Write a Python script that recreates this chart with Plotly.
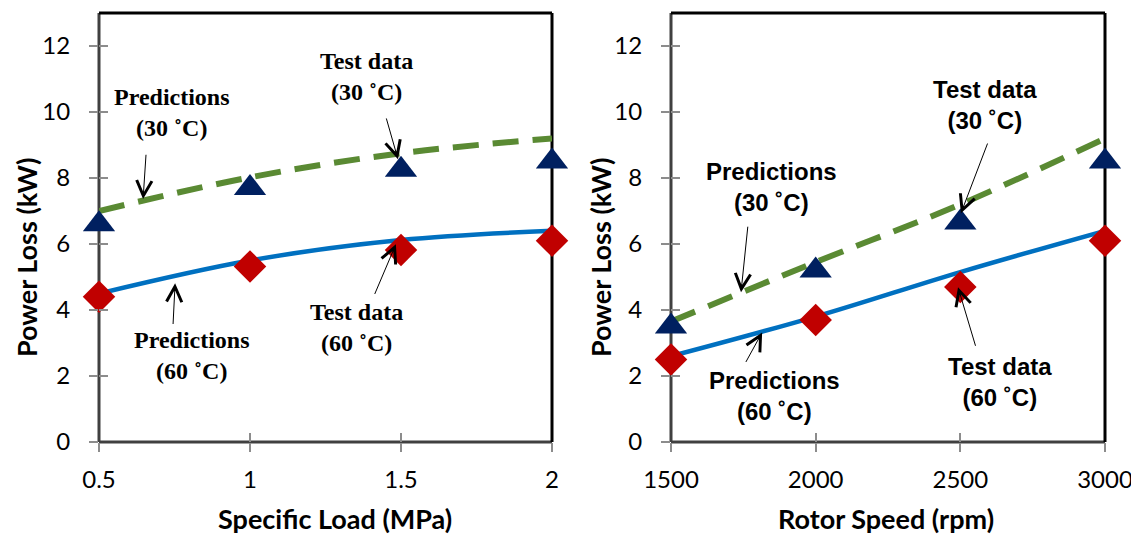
import plotly.graph_objects as go

# ---------------- data ----------------
load_mpa = [0.5, 1.0, 1.5, 2.0]
load_test_30 = [6.6, 7.7, 8.25, 8.5]
load_test_60 = [4.4, 5.32, 5.82, 6.1]
load_pred_30 = [7.0, 8.02, 8.75, 9.2]
load_pred_60 = [4.5, 5.5, 6.12, 6.4]

speed_rpm = [1500, 2000, 2500, 3000]
speed_test_30 = [3.5, 5.2, 6.65, 8.5]
speed_test_60 = [2.5, 3.7, 4.7, 6.1]
speed_pred_30 = [3.65, 5.45, 7.2, 9.2]
speed_pred_60 = [2.6, 3.8, 5.15, 6.4]

y_ticks = [0, 2, 4, 6, 8, 10, 12]
load_ticks = [0.5, 1, 1.5, 2]
speed_ticks = [1500, 2000, 2500, 3000]

# ---------------- styles ----------------
NAVY = "#002060"
RED = "#C00000"
BLUE = "#0070C0"
GREEN = "#5A8A33"
TICK_FONT = dict(family="Lato", size=24, color="black")
TITLE_FONT = dict(family="Lato", size=27, color="black")

OFF = 8  # page body margin
W, H = 1139 - OFF, 536 - OFF
ML, MT = 99 - OFF, 13 - OFF
MR = W - (1105 - OFF)
MB = H - (442 - OFF)
PW, PH = W - ML - MR, H - MT - MB

def px(xp):
    return (xp - OFF - ML) / PW

def py(yp):
    return (H - MB - (yp - OFF)) / PH

fig = go.Figure()

def add_panel(xs, t30, t60, p30, p60, xa, ya):
    fig.add_trace(go.Scatter(x=xs, y=p60, mode="lines", line=dict(color=BLUE, width=4.5, shape="spline"),
                             xaxis=xa, yaxis=ya, showlegend=False))
    fig.add_trace(go.Scatter(x=xs, y=p30, mode="lines",
                             line=dict(color=GREEN, width=6, dash="26px,14px", shape="spline"),
                             xaxis=xa, yaxis=ya, showlegend=False))
    fig.add_trace(go.Scatter(x=xs, y=t30, mode="markers", cliponaxis=False,
                             marker=dict(symbol="triangle-up", size=28, color=NAVY),
                             xaxis=xa, yaxis=ya, showlegend=False))
    fig.add_trace(go.Scatter(x=xs, y=t60, mode="markers", cliponaxis=False,
                             marker=dict(symbol="diamond", size=25, color=RED),
                             xaxis=xa, yaxis=ya, showlegend=False))

add_panel(load_mpa, load_test_30, load_test_60, load_pred_30, load_pred_60, "x", "y")
add_panel(speed_rpm, speed_test_30, speed_test_60, speed_pred_30, speed_pred_60, "x2", "y2")

YD = [0, 1]
XD1 = [0, px(552)]
XD2 = [px(671), 1]

TICKC = "#8C8C8C"
axis_common = dict(showgrid=False, zeroline=False, showline=False, ticks="outside", automargin=False,
                   ticklen=9, tickcolor=TICKC, tickwidth=1.5, tickfont=TICK_FONT)
inner_common = dict(showticklabels=False, showgrid=False, zeroline=False, ticks="inside", ticklen=9,
                    tickcolor=TICKC, tickwidth=1.5, automargin=False)

fig.update_layout(
    width=W, height=H, autosize=False,
    margin=dict(l=ML, r=MR, t=MT, b=MB, autoexpand=False),
    paper_bgcolor="white", plot_bgcolor="white",
    xaxis=dict(domain=XD1, range=[0.5, 2], tickvals=load_ticks, ticktext=["0.5", "1", "1.5", "2"],
               anchor="y", ticklabelstandoff=7, **axis_common),
    yaxis=dict(domain=YD, range=[0, 13], tickvals=y_ticks, anchor="x", ticklabelstandoff=14, **axis_common),
    xaxis2=dict(domain=XD2, range=[1500, 3000], tickvals=speed_ticks, anchor="y2",
                ticklabelstandoff=7, ticklabeloverflow="allow", **axis_common),
    yaxis2=dict(domain=YD, range=[0, 13], tickvals=y_ticks, anchor="x2", ticklabelstandoff=14, **axis_common),
    # inside halves of the crossing ticks
    xaxis3=dict(domain=XD1, range=[0.5, 2], tickvals=load_ticks, overlaying="x", anchor="y", **inner_common),
    yaxis3=dict(domain=YD, range=[0, 13], tickvals=y_ticks, overlaying="y", anchor="x", **inner_common),
    xaxis4=dict(domain=XD2, range=[1500, 3000], tickvals=speed_ticks, overlaying="x2", anchor="y2",
                **inner_common),
    yaxis4=dict(domain=YD, range=[0, 13], tickvals=y_ticks, overlaying="y2", anchor="x2", **inner_common),
)
# empty traces so the overlay axes render
fig.add_trace(go.Scatter(x=[None], y=[None], xaxis="x3", yaxis="y3", showlegend=False, hoverinfo="skip"))
fig.add_trace(go.Scatter(x=[None], y=[None], xaxis="x4", yaxis="y4", showlegend=False, hoverinfo="skip"))

# frames
for xr, yr in (("x domain", "y domain"), ("x2 domain", "y2 domain")):
    fig.add_shape(type="line", xref=xr, yref=yr, x0=0, x1=0, y0=0, y1=1, layer="below",
                  line=dict(color="#404040", width=3))
    fig.add_shape(type="line", xref=xr, yref=yr, x0=0, x1=1, y0=0, y1=0, layer="below",
                  line=dict(color="#404040", width=3))
    fig.add_shape(type="line", xref=xr, yref=yr, x0=0, x1=1, y0=1, y1=1, layer="below",
                  line=dict(color="black", width=3))
    fig.add_shape(type="line", xref=xr, yref=yr, x0=1, x1=1, y0=0, y1=1, layer="below",
                  line=dict(color="black", width=3))

# axis titles
titles = [
    ("<b>Specific Load (MPa)</b>", px(335), py(518), 0),
    ("<b>Rotor Speed (rpm)</b>", px(886), py(518), 0),
    ("<b>Power Loss (kW)</b>", px(26), py(258), -90),
    ("<b>Power Loss (kW)</b>", px(600), py(258), -90),
]
for txt, x, y, ang in titles:
    fig.add_annotation(text=txt, x=x, y=y, xref="paper", yref="paper", showarrow=False,
                       textangle=ang, font=TITLE_FONT, xanchor="center", yanchor="middle")

# callout labels
serif = dict(family="Liberation Serif", size=24, color="black")
sans = dict(family="Liberation Sans", size=24, color="black")
labels = [
    ("x", "y", "Predictions<br>(30 ˚C)", 0.742, 9.97, serif),
    ("x", "y", "Test data<br>(30 ˚C)", 1.387, 11.09, serif),
    ("x", "y", "Predictions<br>(60 ˚C)", 0.808, 2.62, serif),
    ("x", "y", "Test data<br>(60 ˚C)", 1.354, 3.47, serif),
    ("x2", "y2", "Predictions<br>(30 ˚C)", 1849, 7.72, sans),
    ("x2", "y2", "Test data<br>(30 ˚C)", 2585, 10.21, sans),
    ("x2", "y2", "Predictions<br>(60 ˚C)", 1856, 1.38, sans),
    ("x2", "y2", "Test data<br>(60 ˚C)", 2637, 1.81, sans),
]
for xr, yr, txt, x, y, f in labels:
    fig.add_annotation(text="<b>" + txt + "</b>", x=x, y=y, xref=xr, yref=yr, showarrow=False,
                       font=f, xanchor="center", yanchor="middle")

# callout arrows: (tail x, tail y) -> (tip x, tip y)
arrows = [
    ("x", "y", 0.656, 8.75, 0.646, 7.36),
    ("x", "y", 1.450, 9.85, 1.490, 8.57),
    ("x", "y", 0.745, 3.53, 0.752, 4.81),
    ("x", "y", 1.411, 4.44, 1.483, 5.99),
    ("x2", "y2", 1766, 6.57, 1742, 4.54),
    ("x2", "y2", 2596, 9.09, 2502, 6.93),
    ("x2", "y2", 1756, 2.38, 1815, 3.32),
    ("x2", "y2", 2554, 2.87, 2492, 4.69),
]
for xr, yr, ax, ay, x, y in arrows:
    fig.add_annotation(text="", x=x, y=y, ax=ax, ay=ay, xref=xr, yref=yr, axref=xr, ayref=yr,
                       showarrow=True, arrowhead=5, arrowsize=3, arrowwidth=1, arrowcolor="black")

fig.write_html("out.html")
